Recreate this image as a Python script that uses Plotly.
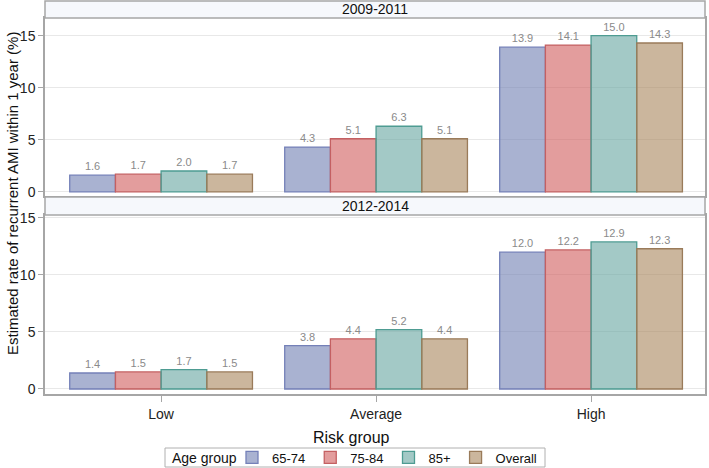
import plotly.graph_objects as go
from plotly.subplots import make_subplots

risk_groups = ["Low", "Average", "High"]
age_groups = ["65-74", "75-84", "85+", "Overall"]
periods = ["2009-2011", "2012-2014"]

# rates (%) per period, one list per age group
rates_2009_2011 = {
    "65-74": [1.6, 4.3, 13.9],
    "75-84": [1.7, 5.1, 14.1],
    "85+": [2.0, 6.3, 15.0],
    "Overall": [1.7, 5.1, 14.3],
}
rates_2012_2014 = {
    "65-74": [1.4, 3.8, 12.0],
    "75-84": [1.5, 4.4, 12.2],
    "85+": [1.7, 5.2, 12.9],
    "Overall": [1.5, 4.4, 12.3],
}

fill_colors = {
    "65-74": "rgba(111,126,179,0.6)",
    "75-84": "rgba(208,91,91,0.6)",
    "85+": "rgba(102,165,160,0.6)",
    "Overall": "rgba(169,134,91,0.6)",
}
line_colors = {
    "65-74": "#7480B8",
    "75-84": "#C46062",
    "85+": "#4E9C92",
    "Overall": "#9A7B5A",
}

FONT = "Arial, Liberation Sans, sans-serif"

fig = make_subplots(rows=2, cols=1, shared_xaxes=True, vertical_spacing=0.04)

for row, data in enumerate([rates_2009_2011, rates_2012_2014], start=1):
    for age in age_groups:
        fig.add_trace(
            go.Bar(
                x=risk_groups,
                y=data[age],
                name=age,
                marker=dict(color=fill_colors[age], line=dict(color=line_colors[age], width=1.3)),
                text=data[age],
                texttemplate="%{y:.1f}",
                textposition="outside",
                textfont=dict(color="#8a8a8a", size=11, family=FONT),
                cliponaxis=False,
                showlegend=(row == 1),
                hoverinfo="x+y+name",
            ),
            row=row, col=1,
        )

H = 468.0
W_PLOT = 660.0
def py(px):
    return (H - px) / H

def pxx(px):
    # screen x -> paper x (left margin 45)
    return (px - 45) / W_PLOT

axis_style = dict(
    showline=True, linecolor="#a6a6a6", linewidth=1.5, mirror=True, automargin=False,
    tickfont=dict(size=14, color="#222", family=FONT),
)

fig.update_xaxes(range=[-0.54, 2.53], showgrid=False, **axis_style)
fig.update_xaxes(ticks="", showticklabels=False, row=1, col=1)
fig.update_xaxes(ticks="outside", ticklen=6, tickcolor="#a6a6a6", row=2, col=1)

fig.update_yaxes(showgrid=True, gridcolor="#e8e8e8", gridwidth=1, tickvals=[0, 5, 10, 15],
                 ticks="outside", ticklen=5, tickcolor="#a6a6a6", zeroline=False, **axis_style)
fig.update_yaxes(range=[-0.4, 16.7], row=1, col=1)
fig.update_yaxes(range=[-0.44, 15.26], row=2, col=1)

fig.update_layout(
    xaxis=dict(domain=[0, 1]),
    yaxis=dict(domain=[py(196), py(18)]),
    yaxis2=dict(domain=[py(394), py(215)]),
)

# panel header strips
strips = [(py(18), py(1), periods[0]), (py(215), py(197), periods[1])]
for y0, y1, label in strips:
    fig.add_shape(type="rect", xref="paper", yref="paper", x0=0, x1=1, y0=y0, y1=y1,
                  fillcolor="#f6f8fc", line=dict(color="#a6a6a6", width=1.5))
    fig.add_annotation(xref="paper", yref="paper", x=0.5, y=(y0 + y1) / 2, yanchor="middle",
                       text=label, showarrow=False,
                       font=dict(size=14, color="#111", family=FONT))

fig.add_annotation(xref="paper", yref="paper", x=0.465, y=py(437), yanchor="middle",
                   text="Risk group", showarrow=False,
                   font=dict(size=16, color="#111", family=FONT))
fig.add_annotation(xref="paper", yref="paper", x=-0.05, y=py(194), xanchor="center",
                   yanchor="middle",
                   text="Estimated rate of recurrent AMI within 1 year (%)", textangle=-90,
                   showarrow=False, font=dict(size=15, color="#111", family=FONT))

# legend frame and title
fig.add_shape(type="rect", xref="paper", yref="paper", x0=pxx(165), x1=pxx(545),
              y0=py(467), y1=py(448), line=dict(color="#b0b0b0", width=1), fillcolor="white",
              layer="below")
fig.add_annotation(xref="paper", yref="paper", x=pxx(170), y=py(457.5), xanchor="left",
                   yanchor="middle", text="Age group", showarrow=False,
                   font=dict(size=14, color="#111", family=FONT))

fig.update_layout(
    width=709, height=468,
    margin=dict(l=45, r=4, t=0, b=0, autoexpand=False),
    barmode="group", bargap=0.15, bargroupgap=0,
    plot_bgcolor="white", paper_bgcolor="white",
    font=dict(family=FONT, color="#111"),
    legend=dict(
        orientation="h", xref="container", yref="container",
        x=232 / 709, xanchor="left", y=(H - 457.5) / H, yanchor="middle",
        font=dict(size=13), bgcolor="rgba(0,0,0,0)", borderwidth=0,
        itemwidth=30, traceorder="normal", tracegroupgap=0,
    ),
)

fig.write_html("out.html", config={"displayModeBar": False},
               post_script="document.body.style.margin='0';")
